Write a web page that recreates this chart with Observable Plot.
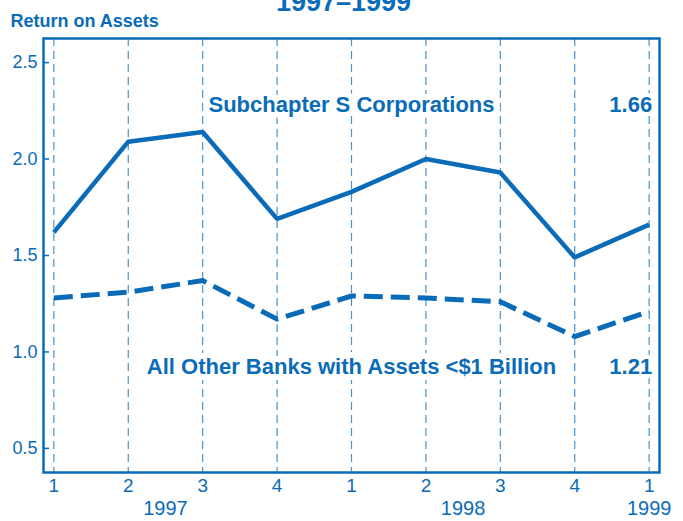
<!DOCTYPE html>
<html><head><meta charset="utf-8">
<script src="https://cdn.jsdelivr.net/npm/d3@7"></script>
<script src="https://cdn.jsdelivr.net/npm/@observablehq/plot@0.6"></script>
<style>
html,body{margin:0;padding:0;background:#fff;}
#chart{position:relative;width:683px;height:521px;overflow:hidden;}
</style></head><body><div id="chart"></div>
<script>
const quarters = ["1","2","3","4","1","2","3","4","1"];
const quarterYears = ["1997","1997","1997","1997","1998","1998","1998","1998","1999"];
const subchapterS = [1.62, 2.09, 2.14, 1.69, 1.83, 2.00, 1.93, 1.49, 1.66];
const otherBanks = [1.28, 1.31, 1.37, 1.17, 1.29, 1.28, 1.26, 1.08, 1.21];
const yTicks = [0.5, 1.0, 1.5, 2.0, 2.5];
const seriesNames = ["Subchapter S Corporations", "All Other Banks with Assets <$1 Billion"];
const title = "1997\u20131999";
const yLabel = "Return on Assets";

const rows = quarters.map((q, i) => ({i, q, year: quarterYears[i], s: subchapterS[i], o: otherBanks[i]}));
const yearRows = Array.from(d3.group(rows, d => d.year), ([year, v]) => ({year, pos: d3.mean(v, d => d.i)}));
const last = rows[rows.length - 1];

const blue = "#0a6cb8";
const grid = "#4a93cf";
const font = "'Liberation Sans', Arial, Helvetica, sans-serif";

const chart = Plot.plot({
  width: 683, height: 521,
  marginLeft: 43, marginRight: 24, marginTop: 38, marginBottom: 49,
  style: {fontFamily: font, color: blue, background: "transparent", overflow: "visible"},
  x: {domain: [-0.139, 8.139], axis: null},
  y: {domain: [0.375, 2.625], axis: null},
  marks: [
    Plot.ruleX(rows, {x: "i", stroke: grid, strokeWidth: 1.2, strokeDasharray: "8,5"}),
    Plot.axisY(yTicks, {anchor: "left", tickSize: -6, tickPadding: 12, tickFormat: d => d.toFixed(1), fontSize: 18, strokeWidth: 1.5}),
    Plot.line(rows, {x: "i", y: "s", stroke: blue, strokeWidth: 4.5, strokeLinecap: "butt", strokeLinejoin: "miter"}),
    Plot.line(rows, {x: "i", y: "o", stroke: blue, strokeWidth: 5, strokeDasharray: "19,8", strokeLinecap: "butt", strokeLinejoin: "miter"}),
    Plot.text([seriesNames[0]], {x: () => 4, y: () => 2.28, text: d => d, fill: blue, fontSize: 22, fontWeight: "bold", stroke: "white", strokeWidth: 12, paintOrder: "stroke"}),
    Plot.text([seriesNames[1]], {x: () => 4, y: () => 0.92, text: d => d, fill: blue, fontSize: 22, fontWeight: "bold", stroke: "white", strokeWidth: 12, paintOrder: "stroke"}),
    Plot.text([last], {x: "i", y: () => 2.28, text: d => d.s.toFixed(2), textAnchor: "end", dx: 3, fill: blue, fontSize: 22, fontWeight: "bold", stroke: "white", strokeWidth: 8, paintOrder: "stroke"}),
    Plot.text([last], {x: "i", y: () => 0.92, text: d => d.o.toFixed(2), textAnchor: "end", dx: 3, fill: blue, fontSize: 22, fontWeight: "bold", stroke: "white", strokeWidth: 8, paintOrder: "stroke"}),
    Plot.frame({stroke: blue, strokeWidth: 2.5}),
    Plot.text(rows, {x: "i", text: "q", frameAnchor: "bottom", dy: 19, fontSize: 19, fill: blue}),
    Plot.text(yearRows, {x: "pos", text: "year", frameAnchor: "bottom", dy: 42, fontSize: 20, fill: blue}),
    Plot.text([yLabel], {frameAnchor: "top-left", dx: -33, dy: -24, textAnchor: "start", fontWeight: "bold", fontSize: 18, fill: blue}),
    Plot.text([title], {frameAnchor: "top", dx: -8, dy: -47, fontWeight: "bold", fontSize: 27, fill: blue})
  ]
});
document.getElementById("chart").appendChild(chart);
</script></body></html>
